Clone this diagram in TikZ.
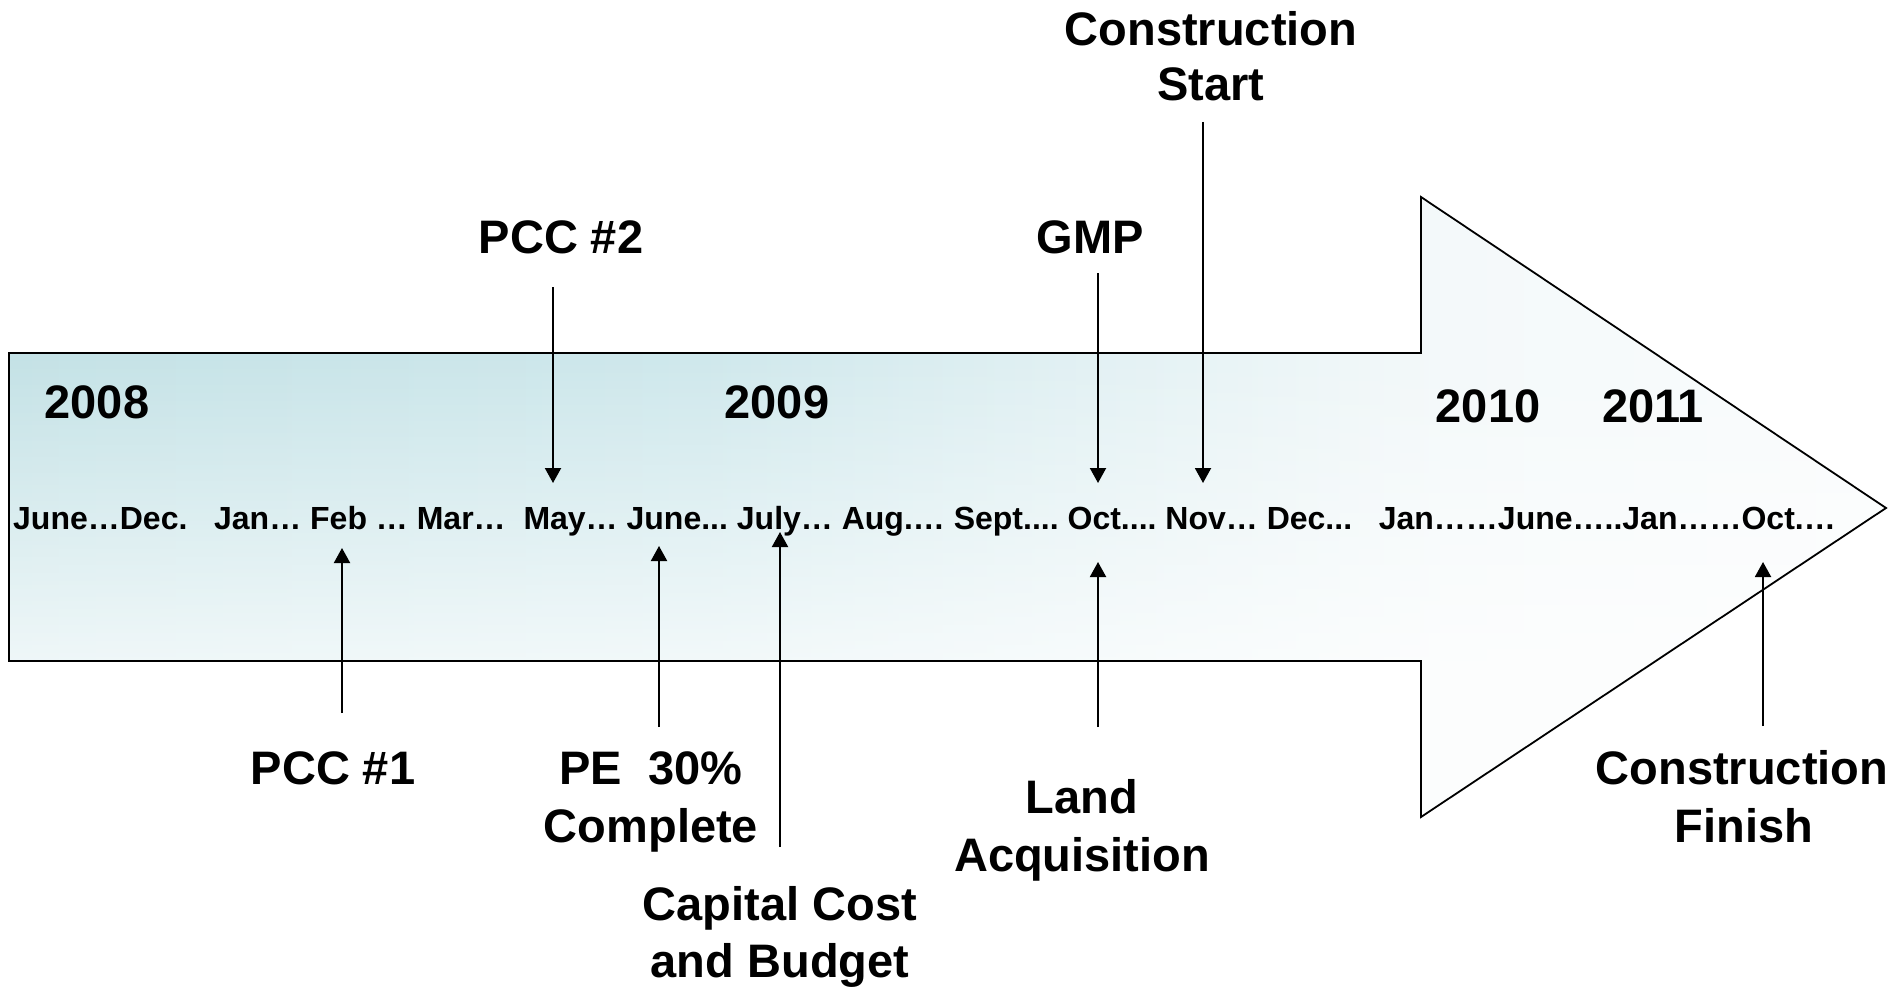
\documentclass[tikz,border=0pt]{standalone}
\usepackage{fontspec}
\setmainfont{Liberation Sans}
\usetikzlibrary{arrows.meta}
\definecolor{tealA}{RGB}{196,226,230}
\definecolor{tealB}{RGB}{207,232,236}
\definecolor{tealC}{RGB}{244,249,250}
\definecolor{tealD}{RGB}{250,252,253}
\begin{document}
\begin{tikzpicture}[x=1pt,y=-1pt,
  lbl/.style={font=\fontsize{47}{56}\selectfont\bfseries, inner sep=0pt, anchor=base},
  monrow/.style={font=\fontsize{32}{38}\selectfont\bfseries\frenchspacing, inner sep=0pt, anchor=base west},
  conn/.style={line width=2pt, -{Triangle[width=16pt,length=15pt]}},
  outline/.style={line width=1.8pt, line join=miter, draw=black}
]
\useasboundingbox (0,0) rectangle (1889,987);
\fill[white] (0,0) rectangle (1889,987);

% gradient filled arrow
\begin{scope}
  \clip (9,353) -- (1421,353) -- (1421,197) -- (1886,508) -- (1421,817) -- (1421,661) -- (9,661) -- cycle;
  \shade[left color=tealA, right color=tealB] (0,190) rectangle (700,830);
  \shade[left color=tealB, right color=tealC] (700,190) rectangle (1450,830);
  \shade[left color=tealC, right color=tealD] (1450,190) rectangle (1889,830);
  \foreach \i in {0,...,76} {
    \pgfmathsetmacro\op{\i*0.0095}
    \fill[white, opacity=\op] (0,353+4*\i) rectangle (1889,357+4*\i);
  }
  \fill[white, opacity=0.73] (0,661) rectangle (1889,830);
\end{scope}
\draw[outline] (9,353) -- (1421,353) -- (1421,197) -- (1886,508) -- (1421,817) -- (1421,661) -- (9,661) -- cycle;

% years
\node[lbl] (y2008) at (97,418) {2008};
\node[lbl] (y2009) at (777,418) {2009};
\node[lbl] (y2010) at (1488,422) {2010};
\node[lbl] (y2011) at (1653,422) {2011};

% month row
\node[monrow] (months) at (13,529) {June…Dec.\ \ \ Jan… Feb … Mar…\ \ May… June... July… Aug.… Sept.... Oct.... Nov… Dec...\ \ \ Jan……June…..Jan……Oct.…};

% top labels
\node[lbl] (cs1) at (1211,46) {Construction};
\node[lbl] (cs2) at (1211,101) {Start};
\node[lbl] (pcc2) at (561,253) {PCC \#2};
\node[lbl] (gmp) at (1090,253) {GMP};

% bottom labels
\node[lbl] (pcc1) at (333,784) {PCC \#1};
\node[lbl] (pe1) at (651,784) {PE\ \ 30\%};
\node[lbl] (pe2) at (651,842) {Complete};
\node[lbl] (cap1) at (780,920) {Capital Cost};
\node[lbl] (cap2) at (780,977) {and Budget};
\node[lbl] (land1) at (1082,813) {Land};
\node[lbl] (land2) at (1082,871) {Acquisition};
\node[lbl] (cf1) at (1742,784) {Construction};
\node[lbl] (cf2) at (1744,842) {Finish};

% connector end points
\coordinate (pcc2s) at (553,287);  \coordinate (pcc2e) at (553,483);
\coordinate (gmps) at (1098,273);  \coordinate (gmpe) at (1098,483);
\coordinate (css) at (1203,122);   \coordinate (cse) at (1203,483);
\coordinate (pcc1s) at (342,713);  \coordinate (pcc1e) at (342,548);
\coordinate (pes) at (659,727);    \coordinate (pee) at (659,546);
\coordinate (caps) at (780,847);   \coordinate (cape) at (780,532);
\coordinate (lands) at (1098,727); \coordinate (lande) at (1098,562);
\coordinate (cfs) at (1763,726);   \coordinate (cfe) at (1763,562);

\draw[conn] (pcc2s) -- (pcc2e);
\draw[conn] (gmps) -- (gmpe);
\draw[conn] (css) -- (cse);
\draw[conn] (pcc1s) -- (pcc1e);
\draw[conn] (pes) -- (pee);
\draw[conn] (caps) -- (cape);
\draw[conn] (lands) -- (lande);
\draw[conn] (cfs) -- (cfe);
\end{tikzpicture}
\end{document}
